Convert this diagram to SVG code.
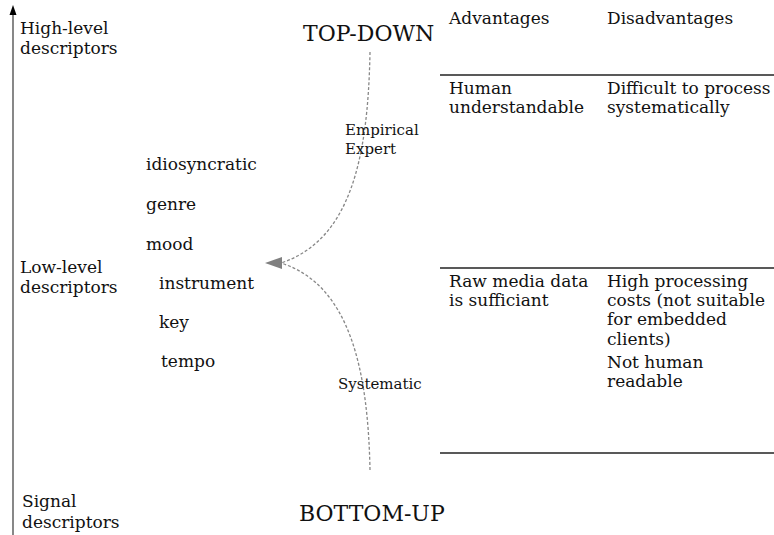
<svg xmlns="http://www.w3.org/2000/svg" width="774" height="535" viewBox="0 0 774 535">
<style>
text{font-family:"DejaVu Serif","Liberation Serif",serif;fill:#111;}
.t{font-size:17px;}
.s{font-size:15px;}
.big{font-size:22px;}
.rule{stroke:#222;stroke-width:1.4;fill:none;}
.dot{stroke:#888;stroke-width:1.3;fill:none;stroke-dasharray:3 2;}
.head{fill:#808080;}
</style>
<rect width="774" height="535" fill="#fff"/>
<g id="axis">
<line x1="13" y1="535" x2="13" y2="12" stroke="#555" stroke-width="1.4"/>
<path d="M13,5 L9.5,15 L16.5,15 Z" fill="#000"/>
<text class="t" x="20" y="34">High-level</text>
<text class="t" x="20" y="54">descriptors</text>
<text class="t" x="20" y="273">Low-level</text>
<text class="t" x="20" y="293">descriptors</text>
<text class="t" x="22" y="507">Signal</text>
<text class="t" x="22" y="528">descriptors</text>
</g>
<g id="top-down"><text class="big" x="303" y="41">TOP-DOWN</text></g>
<g id="bottom-up"><text class="big" x="299" y="521">BOTTOM-UP</text></g>
<g id="descriptors">
<text class="t" x="146" y="170">idiosyncratic</text>
<text class="t" x="146" y="210">genre</text>
<text class="t" x="146" y="250">mood</text>
<text class="t" x="159" y="289">instrument</text>
<text class="t" x="159" y="328">key</text>
<text class="t" x="161" y="367">tempo</text>
</g>
<g id="connectors">
<path class="dot" d="M370,52 C368,160 350,240 281,263"/>
<path class="dot" d="M370,470 C368,370 350,285 281,263"/>
<path class="head" d="M265,263 L282,257 L282,269 Z"/>
<text class="s" x="345" y="135">Empirical</text>
<text class="s" x="345" y="154">Expert</text>
<text class="s" x="338" y="389">Systematic</text>
</g>
<g id="table">
<text class="t" x="449" y="24">Advantages</text>
<text class="t" x="607" y="24">Disadvantages</text>
<line class="rule" x1="440" y1="75" x2="774" y2="75"/>
<text class="t" x="449" y="94">Human</text>
<text class="t" x="449" y="113">understandable</text>
<text class="t" x="607" y="94">Difficult to process</text>
<text class="t" x="607" y="113">systematically</text>
<line class="rule" x1="440" y1="268" x2="774" y2="268"/>
<text class="t" x="449" y="287">Raw media data</text>
<text class="t" x="449" y="306">is sufficiant</text>
<text class="t" x="607" y="287">High processing</text>
<text class="t" x="607" y="306">costs (not suitable</text>
<text class="t" x="607" y="325">for embedded</text>
<text class="t" x="607" y="345">clients)</text>
<text class="t" x="607" y="368">Not human</text>
<text class="t" x="607" y="387">readable</text>
<line class="rule" x1="440" y1="453" x2="774" y2="453"/>
</g>
</svg>
